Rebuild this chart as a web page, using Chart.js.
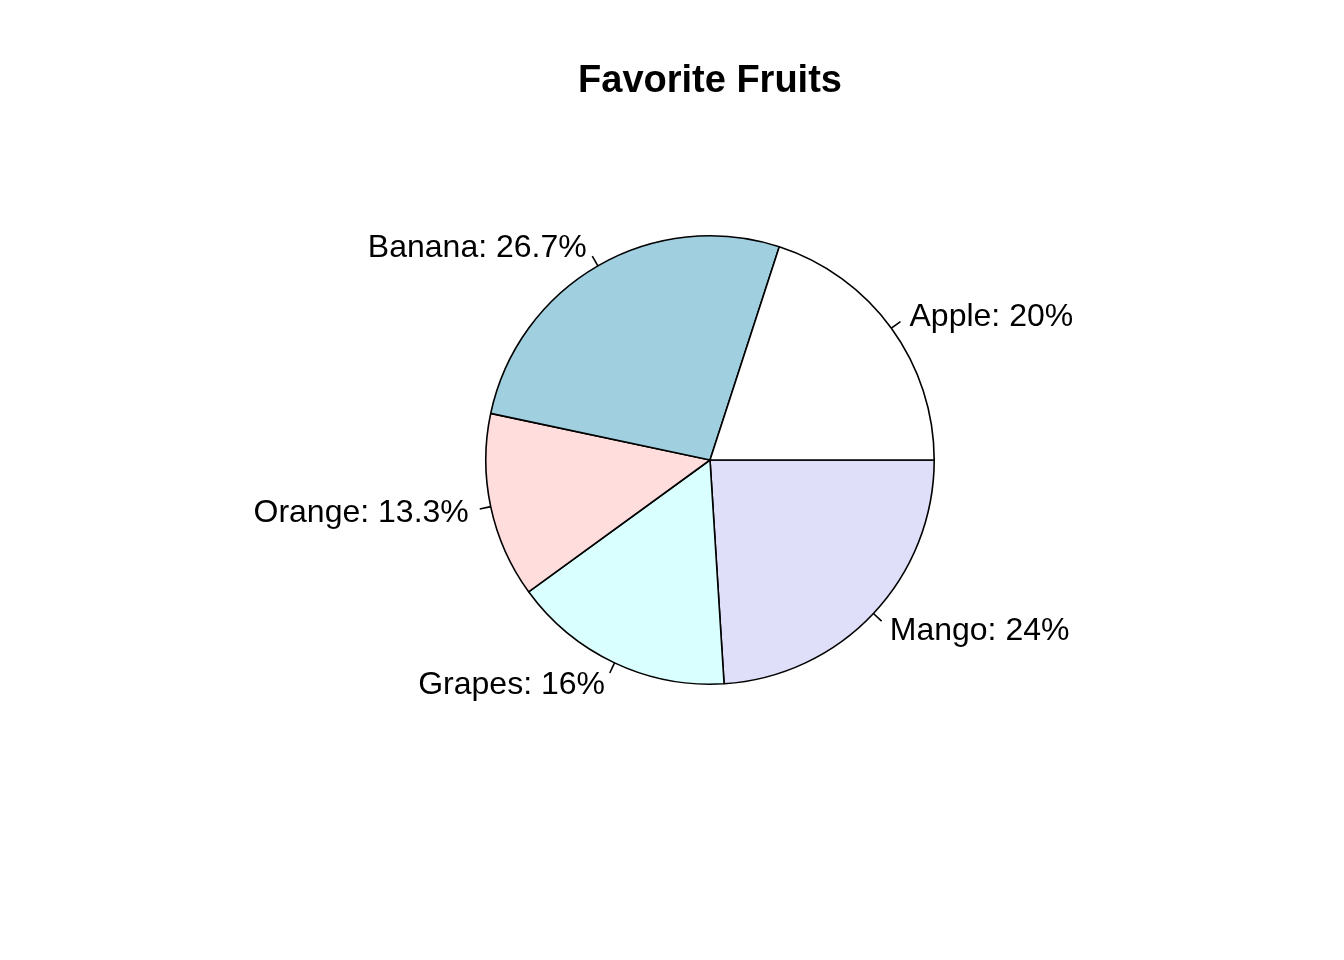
<!DOCTYPE html>
<html>
<head>
<meta charset="utf-8">
<script src="https://cdn.jsdelivr.net/npm/chart.js@4"></script>
<style>
    html, body { margin: 0; padding: 0; background: #fff; }
    #wrap { width: 1344px; height: 960px; }
</style>
</head>
<body>
<div id="wrap"><canvas id="fruitsPie" width="1344" height="960"></canvas></div>
<script>
const fruits = ['Apple', 'Banana', 'Orange', 'Grapes', 'Mango'];
const counts = [15, 20, 10, 12, 18];
const percentLabels = ['20%', '26.7%', '13.3%', '16%', '24%'];
const sliceColors = ['#ffffff', '#a0d0e0', '#ffdddd', '#d9ffff', '#dfdff9'];

// R draws counter-clockwise from 3 o'clock, Chart.js clockwise -> reverse
const order = fruits.map((_, i) => fruits.length - 1 - i);

// labels outside the pie with small tick marks, like base R pie()
const pieLabels = {
    id: 'pieLabels',
    afterDatasetsDraw(chart) {
        const { ctx } = chart;
        const meta = chart.getDatasetMeta(0);
        ctx.save();
        ctx.font = '32px "Liberation Sans", Arial, sans-serif';
        ctx.fillStyle = '#000';
        ctx.strokeStyle = '#000';
        ctx.lineWidth = 1.6;
        ctx.textBaseline = 'middle';
        meta.data.forEach((arc, j) => {
            const i = order[j];
            const mid = (arc.startAngle + arc.endAngle) / 2;
            const r = arc.outerRadius;
            const cx = arc.x, cy = arc.y;
            const c = Math.cos(mid), s = Math.sin(mid);
            ctx.beginPath();
            ctx.moveTo(cx + r * c, cy + r * s);
            ctx.lineTo(cx + 1.05 * r * c, cy + 1.05 * r * s);
            ctx.stroke();
            ctx.textAlign = c < 0 ? 'right' : 'left';
            ctx.fillText(fruits[i] + ': ' + percentLabels[i], cx + 1.1 * r * c, cy + 1.1 * r * s + 2);
        });
        ctx.restore();
    }
};

const pieTitle = {
    id: 'pieTitle',
    afterDraw(chart) {
        const { ctx } = chart;
        ctx.save();
        ctx.font = 'bold 38px "Liberation Sans", Arial, sans-serif';
        ctx.fillStyle = '#000';
        ctx.textAlign = 'center';
        ctx.textBaseline = 'middle';
        ctx.fillText('Favorite Fruits', 710, 82);
        ctx.restore();
    }
};

new Chart(document.getElementById('fruitsPie'), {
    type: 'pie',
    data: {
        labels: order.map(i => fruits[i]),
        datasets: [{
            data: order.map(i => counts[i]),
            backgroundColor: order.map(i => sliceColors[i]),
            borderColor: '#000',
            borderWidth: 1.6
        }]
    },
    options: {
        responsive: false,
        animation: false,
        rotation: 90,
        layout: {
            padding: { left: 485, right: 409, top: 235, bottom: 275 }
        },
        plugins: {
            legend: { display: false },
            tooltip: { enabled: false }
        }
    },
    plugins: [pieLabels, pieTitle]
});
</script>
</body>
</html>
